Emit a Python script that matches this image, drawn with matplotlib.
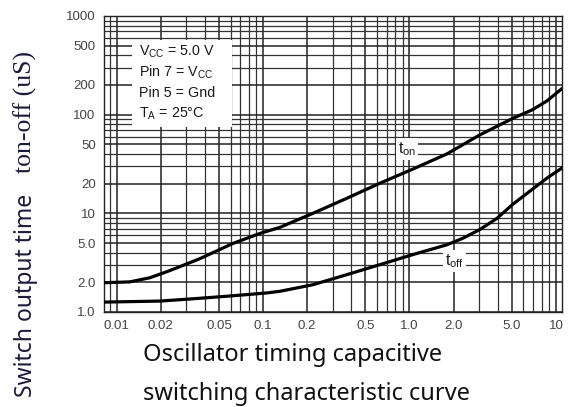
import numpy as np
import matplotlib
matplotlib.use("Agg")
import matplotlib.pyplot as plt
from matplotlib.ticker import FixedLocator, NullFormatter

plt.rcParams["mathtext.fontset"] = "custom"
plt.rcParams["mathtext.rm"] = "Liberation Sans"
plt.rcParams["mathtext.it"] = "Liberation Sans:italic"

# === Data ===
ton_c = [0.0082, 0.0123, 0.0168, 0.022, 0.027, 0.037, 0.062, 0.095, 0.13, 0.219,
         0.373, 0.628, 1.055, 1.8, 3.0, 5.09, 6.9, 8.7, 11.0]
ton_t = [1.98, 2.02, 2.22, 2.56, 2.88, 3.47, 4.94, 6.25, 7.2, 10,
         14.2, 20.2, 28.1, 40, 62, 92, 112, 138, 184]

toff_c = [0.0082, 0.0197, 0.033, 0.062, 0.106, 0.13, 0.219, 0.373, 0.628, 1.055,
          1.8, 2.32, 3.03, 3.96, 5.09, 8.7, 11.0]
toff_t = [1.26, 1.29, 1.36, 1.46, 1.56, 1.62, 1.89, 2.39, 3.02, 3.82,
          4.8, 5.6, 6.87, 8.9, 12.4, 22.8, 28.8]

x_ticks = [0.01, 0.02, 0.05, 0.1, 0.2, 0.5, 1.0, 2.0, 5.0, 10]
x_labels = ["0.01", "0.02", "0.05", "0.1", "0.2", "0.5", "1.0", "2.0", "5.0", "10"]
y_ticks = [1, 2, 5, 10, 20, 50, 100, 200, 500, 1000]
y_labels = ["1.0", "2.0", "5.0", "10", "20", "50", "100", "200", "500", "1000"]

conditions = ["$\\mathregular{V_{CC}}$ = 5.0 V",
              "Pin 7 = $\\mathregular{V_{CC}}$",
              "Pin 5 = Gnd",
              "$\\mathregular{T_A}$ = 25°C"]

# === Figure ===
fig = plt.figure(figsize=(5.72, 4.07), dpi=100)
ax = fig.add_axes([104 / 572, 1 - 312 / 407, 458 / 572, 296 / 407])
ax.set_xscale("log")
ax.set_yscale("log")
ax.set_xlim(0.0082, 11.0)
ax.set_ylim(1.0, 1000)

ax.xaxis.set_major_locator(FixedLocator(x_ticks))
ax.set_xticklabels(x_labels)
ax.yaxis.set_major_locator(FixedLocator(y_ticks))
ax.set_yticklabels(y_labels)
ax.xaxis.set_minor_locator(FixedLocator(
    [m * 10.0 ** e for e in range(-3, 2) for m in range(1, 10)]))
ax.yaxis.set_minor_locator(FixedLocator(
    [m * 10.0 ** e for e in range(0, 3) for m in range(1, 10)]))
ax.xaxis.set_minor_formatter(NullFormatter())
ax.yaxis.set_minor_formatter(NullFormatter())
ax.tick_params(which="both", length=0, labelsize=9.5, labelcolor="#444444")
ax.tick_params(axis="y", pad=6)
ax.tick_params(axis="x", pad=6)
for lab in ax.get_xticklabels() + ax.get_yticklabels():
    lab.set_family("Liberation Sans")

ax.grid(True, which="major", color="#222222", lw=1.1)
ax.grid(True, which="minor", color="#333333", lw=0.9)
for s in ax.spines.values():
    s.set_color("#222222")
    s.set_linewidth(1.0)

ax.plot(ton_c, ton_t, color="black", lw=2.3, solid_capstyle="round",
        solid_joinstyle="round", zorder=3)
ax.plot(toff_c, toff_t, color="black", lw=2.3, solid_capstyle="round",
        solid_joinstyle="round", zorder=3)

# condition box
box_ax = (132 - 104) / 458, 1 - (127 - 16) / 296
ax.add_patch(plt.Rectangle(box_ax, 100 / 458, 87 / 296, transform=ax.transAxes,
                           facecolor="white", edgecolor="none", zorder=4))
for i, line in enumerate(conditions):
    ax.text((139 - 104) / 458, 1 - (52 + i * 20.5 - 16) / 296, line,
            transform=ax.transAxes, ha="left", va="center", fontsize=10.3,
            family="Liberation Sans", color="#1a1a1a", zorder=5)

ax.text(0.96, 45, "$\\mathregular{t_{on}}$", ha="center", va="center", fontsize=11.5,
        family="Liberation Sans", color="#1a1a1a", zorder=5,
        bbox=dict(facecolor="white", edgecolor="none", pad=1.5))
ax.text(2.04, 3.3, "$\\mathregular{t_{off}}$", ha="center", va="center", fontsize=11.5,
        family="Liberation Sans", color="#1a1a1a", zorder=5,
        bbox=dict(facecolor="white", edgecolor="none", pad=1.5))

# axis titles
fig.text(143 / 572, 1 - 355 / 407, "Oscillator timing capacitive", ha="left",
         va="center", fontsize=17, family="Noto Sans", color="#111111")
fig.text(143 / 572, 1 - 394 / 407, "switching characteristic curve", ha="left",
         va="center", fontsize=17, family="Noto Sans", color="#111111")
fig.text(32 / 572, 1 - 295 / 407, "Switch output time", rotation=90,
         rotation_mode="anchor", ha="center", va="baseline", fontsize=16.5,
         family="Noto Sans", color="#1a1a3a")
fig.text(32 / 572, 1 - 112 / 407, "ton-off (uS)", rotation=90,
         rotation_mode="anchor", ha="center", va="baseline", fontsize=18.5,
         family="Liberation Serif", color="#1a1a3a")

fig.savefig("out.png", dpi=100)
